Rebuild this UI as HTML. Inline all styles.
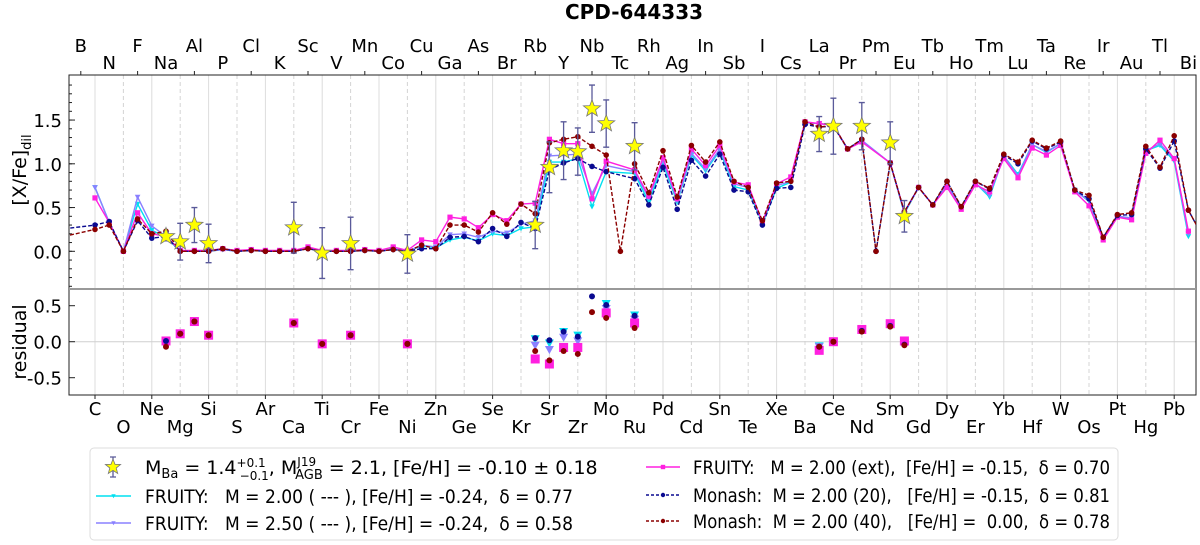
<!DOCTYPE html>
<html><head><meta charset="utf-8">
<style>
html,body{margin:0;padding:0;background:#fff;}
svg{display:block;font-family:"DejaVu Sans","Liberation Sans",sans-serif;}
</style></head>
<body>
<svg id="chart" width="1200" height="545" viewBox="0 0 1200 545" xmlns="http://www.w3.org/2000/svg">
<text x="634" y="19" font-size="20" font-weight="bold" text-anchor="middle">CPD-644333</text>
<defs>
<clipPath id="clipTop"><rect x="69" y="75" width="1127" height="214"/></clipPath>
<clipPath id="clipRes"><rect x="69" y="289" width="1127" height="106"/></clipPath>
</defs>
<g id="grid"></g>
<g id="axes"></g>
<g id="topPlot" clip-path="url(#clipTop)"></g>
<g id="resPlot" clip-path="url(#clipRes)"></g>
<g id="legend"></g>
</svg>
<script>
const symbols = ["Li","Be","B","C","N","O","F","Ne","Na","Mg","Al","Si","P","S","Cl","Ar","K","Ca","Sc","Ti","V","Cr","Mn","Fe","Co","Ni","Cu","Zn","Ga","Ge","As","Se","Br","Kr","Rb","Sr","Y","Zr","Nb","Mo","Tc","Ru","Rh","Pd","Ag","Cd","In","Sn","Sb","Te","I","Xe","Cs","Ba","La","Ce","Pr","Nd","Pm","Sm","Eu","Gd","Tb","Dy","Ho","Er","Tm","Yb","Lu","Hf","Ta","W","Re","Os","Ir","Pt","Au","Hg","Tl","Pb","Bi","Po"];
const zStart = 3;
const fruity200 = [null,null,null,.73,.33,0,.54,.24,.16,0,0,0,.02,0,.01,0,0,0,.03,0,0,0,.01,0,.03,0,.06,.04,.13,.16,.12,.20,.18,.26,.28,1.02,1.02,1.06,.51,.91,null,.89,.56,1.00,.56,1.10,.92,1.15,.74,.70,.32,.72,.79,1.47,1.46,1.44,1.17,1.26,null,1.01,.43,.73,.53,.77,.50,.78,.62,1.09,.88,1.22,1.13,1.23,.70,.57,.15,.40,.38,1.15,1.21,1.03,.17,null];
const fruity250 = [null,null,null,.73,.33,0,.62,.29,.17,0,0,0,.02,0,.01,0,0,0,.03,0,0,0,.01,0,.03,0,.07,.05,.19,.20,.16,.23,.21,.31,.35,1.09,1.10,1.11,.66,.98,null,.91,.61,1.04,.58,1.12,.94,1.17,.77,.73,.34,.75,.80,1.47,1.46,1.44,1.17,1.27,null,1.01,.44,.73,.53,.76,.50,.78,.64,1.09,.86,1.22,1.14,1.23,.69,.58,.15,.40,.38,1.15,1.23,1.05,.20,null];
const fruityExt = [null,null,null,.61,.33,0,.44,.20,.17,.01,.01,.01,.03,.01,.02,.01,.01,.01,.05,.01,.01,.01,.02,.01,.05,.01,.13,.11,.39,.37,.27,.42,.35,.54,.55,1.28,1.23,1.23,.60,1.03,null,.93,.63,1.07,.60,1.17,.98,1.21,.79,.76,.33,.77,.85,1.48,1.46,1.44,1.17,1.25,null,1.01,.45,.73,.53,.73,.48,.76,.68,1.06,.84,1.18,1.10,1.21,.68,.52,.13,.39,.36,1.12,1.27,1.06,.23,null];
const monash20 = [.24,null,null,.30,.34,0,.35,.15,.17,0,0,0,.03,0,.01,0,0,0,.03,0,0,0,.01,0,.02,0,.03,.03,.16,.17,.11,.26,.17,.33,.26,.93,1.01,1.06,.97,.91,null,.83,.53,.96,.48,1.04,.86,1.11,.70,.68,.30,.72,.73,1.45,1.42,1.43,1.17,1.28,0,1.01,.45,.73,.53,.80,.51,.80,.71,1.10,1.00,1.26,1.17,1.25,.70,.60,.16,.41,.42,1.17,.95,1.26,.47,.17];
const monash40 = [.14,null,null,.25,.30,0,.37,.20,.23,0,0,0,.03,0,.01,0,0,0,.03,0,0,0,.01,0,.02,0,.07,.03,.30,.30,.22,.44,.31,.54,.43,1.24,1.28,1.31,1.20,1.10,0,1.00,.67,1.15,.62,1.21,1.02,1.25,.80,.73,.35,.78,.80,1.48,1.42,1.44,1.17,1.28,0,1.01,.45,.73,.53,.80,.51,.80,.72,1.11,1.02,1.27,1.18,1.26,.70,.64,.16,.42,.44,1.20,.96,1.32,.47,.17];
const obsEls = ["Na","Mg","Al","Si","Ca","Ti","Cr","Ni","Rb","Sr","Y","Zr","Nb","Mo","Ru","La","Ce","Nd","Sm","Eu"];
const obsVals = [.17,.11,.30,.09,.27,-.02,.09,-.03,.30,.96,1.15,1.14,1.63,1.46,1.20,1.34,1.43,1.43,1.24,.40];
const obsErrs = [.05,.21,.20,.22,.29,.29,.30,.22,.27,.29,.33,.27,.27,.27,.27,.20,.32,.27,.24,.18];
const resFruity200 = [.01,.11,.28,.09,.26,-.03,.09,-.03,.04,-.02,.14,.09,null,.53,.37,-.06,0,.16,.23,-.02];
const resFruity250 = [.01,.11,.28,.09,.26,-.03,.09,-.03,-.05,-.11,.06,.01,null,.46,.31,-.07,0,.16,.23,-.02];
const resFruityExt = [.01,.11,.28,.09,.26,-.03,.09,-.03,-.24,-.31,-.08,-.08,null,.40,.26,-.12,0,.17,.25,.01];
const resMonash20 = [.01,.11,.28,.09,.26,-.03,.09,-.03,.05,.02,.14,.07,.63,.51,.36,-.07,0,.15,.22,-.04];
const resMonash40 = [-.07,.11,.28,.09,.26,-.03,.09,-.03,-.13,-.26,-.13,-.17,.41,.33,.19,-.07,0,.14,.21,-.05];
const yTicksTop = [0,0.5,1.0,1.5];
const yTicksRes = [0.5,0,-0.5];

const NS="http://www.w3.org/2000/svg";
function mk(tag, attrs, parent){const e=document.createElementNS(NS,tag);for(const k in attrs)e.setAttribute(k,attrs[k]);parent.appendChild(e);return e;}
const zOf = s => symbols.indexOf(s)+zStart;
const xS = z => 95 + 14.2*(z-6);
const yT = v => 251.3 - v*87.5;
const yR = v => 341.7 - v*72;

const gridG=document.getElementById('grid'), axesG=document.getElementById('axes');
const topG=document.getElementById('topPlot'), resG=document.getElementById('resPlot');

for(let z=6; z<=83; z+=2){
  const solid = (z%4===2);
  const g = mk('line',{x1:xS(z),x2:xS(z),y1:75,y2:395,stroke:solid?'#dcdcdc':'#d4d4d4','stroke-width':1,'stroke-dasharray':solid?'none':'4,3'},gridG);
  
  
}
const zl = mk('line',{x1:69,x2:1196,y1:yR(0),y2:yR(0),stroke:'#cfcfcf','stroke-width':1},gridG);



const fr = mk('rect',{x:69,y:75,width:1127,height:320,fill:'none',stroke:'#222','stroke-width':1},axesG);


const sep = mk('line',{x1:69,x2:1196,y1:289,y2:289,stroke:'#999','stroke-width':2},axesG);



for(let z=5; z<=83; z++){
  const s=symbols[z-zStart];
  let y, isTop;
  if(z%2===1){ isTop=true; y = (z%4===1)?52:69; }
  else { isTop=false; y = (z%4===2)?415:433; }
  const t = mk('text',{x:xS(z),y:y,'font-size':18,'text-anchor':'middle',fill:'#000'},axesG);
  t.textContent=s;
  
  
  if(isTop && z%4===1){ mk('line',{x1:xS(z),x2:xS(z),y1:71,y2:75,stroke:'#222'},axesG); }
  if(!isTop && z%4===2){ mk('line',{x1:xS(z),x2:xS(z),y1:395,y2:399,stroke:'#222'},axesG); }
}

yTicksTop.forEach(v=>{
  const t=mk('text',{x:62,y:yT(v)+7,'font-size':18,'text-anchor':'end'},axesG);
  t.textContent=v.toFixed(1);
  
  
  mk('line',{x1:69,x2:75,y1:yT(v),y2:yT(v),stroke:'#222'},axesG);
});
for(let k=-4; k<=19; k++){ const v=k/10; mk('line',{x1:69,x2:72,y1:yT(v),y2:yT(v),stroke:'#222'},axesG); }
yTicksRes.forEach(v=>{
  const t=mk('text',{x:62,y:yR(v)+7,'font-size':18,'text-anchor':'end'},axesG);
  t.textContent=v.toFixed(1);
  
  
  mk('line',{x1:69,x2:75,y1:yR(v),y2:yR(v),stroke:'#222'},axesG);
});
const yl = mk('text',{transform:'translate(26,170) rotate(-90)','font-size':19,'text-anchor':'middle'},axesG);
yl.innerHTML='[X/Fe]<tspan font-size="13" dy="5">dil</tspan>';


const rl = mk('text',{transform:'translate(26,342) rotate(-90)','font-size':19,'text-anchor':'middle'},axesG);
rl.textContent='residual';



function marker(parent, kind, x, y, color, size){
  let m;
  if(kind==='sq'){ m=mk('rect',{x:x-size,y:y-size,width:2*size,height:2*size,fill:color},parent); }
  else if(kind==='tri'){ m=mk('polygon',{points:`${x-size},${y-size*0.8} ${x+size},${y-size*0.8} ${x},${y+size}`,fill:color},parent); }
  else { m=mk('circle',{cx:x,cy:y,r:size,fill:color},parent); }
  return m;
}
const series = [
  {name:'fruity-2-00', vals:fruity200, res:resFruity200, color:'#00e0f0', dash:'none', kind:'tri'},
  {name:'fruity-2-50', vals:fruity250, res:resFruity250, color:'#8a80ff', dash:'none', kind:'tri'},
  {name:'fruity-ext', vals:fruityExt, res:resFruityExt, color:'#ff20e0', dash:'none', kind:'sq'},
  {name:'monash-20', vals:monash20, res:resMonash20, color:'#0a0a90', dash:'4,2', kind:'dot'},
  {name:'monash-40', vals:monash40, res:resMonash40, color:'#8b0000', dash:'4,2', kind:'dot'}
];
series.forEach(s=>{
  const pts=[];
  s.vals.forEach((v,i)=>{ if(v!==null) pts.push([xS(i+zStart),yT(v)]); });
  const p = mk('polyline',{points:pts.map(p=>p.join(',')).join(' '),fill:'none',stroke:s.color,'stroke-width':1.4,'stroke-dasharray':s.dash},topG);
  
  
  pts.forEach(pt=>{
    const m = marker(topG, s.kind, pt[0], pt[1], s.color, s.kind==='sq'?2.6:2.8);
    
    
  });
});
series.forEach(s=>{
  s.res.forEach((v,i)=>{
    if(v===null) return;
    const x=xS(zOf(obsEls[i])), y=yR(v);
    const m = marker(resG, s.kind, x, y, s.color, s.kind==='sq'?4.5:(s.kind==='tri'?4.5:3));
    
    
  });
});

function starPts(cx,cy,R){const r=R*0.42;let a=[];for(let k=0;k<10;k++){const ang=-Math.PI/2+k*Math.PI/5;const rr=k%2?r:R;a.push((cx+rr*Math.cos(ang)).toFixed(1)+','+(cy+rr*Math.sin(ang)).toFixed(1));}return a.join(' ');}
obsEls.forEach((el,i)=>{
  const x=xS(zOf(el)), y=yT(obsVals[i]);
  const y1=yT(obsVals[i]+obsErrs[i]), y2=yT(obsVals[i]-obsErrs[i]);
  const eb = mk('path',{d:`M${x},${y1}V${y2}M${x-3},${y1}H${x+3}M${x-3},${y2}H${x+3}`,stroke:'#5a5a9a','stroke-width':1.3,fill:'none'},topG);
  
  
  const st = mk('polygon',{points:starPts(x,y,9),fill:'#ffff00',stroke:'#777','stroke-width':0.8},topG);
  
  
});

const lg=document.getElementById('legend');
mk('rect',{x:90,y:448,width:1028,height:92,rx:4,fill:'#fff',stroke:'#ddd','stroke-width':1},lg);
const ls = mk('g',{},lg);


mk('path',{d:'M113,457V477M110,457H116M110,477H116',stroke:'#5a5a9a','stroke-width':1.3},ls);
mk('polygon',{points:starPts(113,467,8),fill:'#ffff00',stroke:'#777','stroke-width':0.8},ls);
const t0 = mk('text',{x:145,y:474,'font-size':19},ls);
t0.innerHTML='M<tspan font-size="13" dy="4">Ba</tspan><tspan dy="-4"> = 1.4</tspan><tspan font-size="12" dy="-7">+0.1</tspan><tspan font-size="12" dx="-26" dy="13">−0.1</tspan><tspan dy="-6">, M</tspan><tspan font-size="12" dy="-8">J19</tspan><tspan font-size="13" dx="-21" dy="13">AGB</tspan><tspan dy="-5"> = 2.1, [Fe/H] = -0.10 ± 0.18</tspan>';
const legRows = [
  {x1:96,x2:131,tx:145,ty:503,tl:428,c:'#00e0f0',dash:'none',kind:'tri',txt:'FRUITY:   M = 2.00 ( --- ), [Fe/H] = -0.24,  δ = 0.77',n:'legend-entry-fruity-2-00'},
  {x1:96,x2:131,tx:145,ty:530,tl:428,c:'#8a80ff',dash:'none',kind:'tri',txt:'FRUITY:   M = 2.50 ( --- ), [Fe/H] = -0.24,  δ = 0.58',n:'legend-entry-fruity-2-50'},
  {x1:646,x2:680,tx:693,ty:474,tl:417,c:'#ff20e0',dash:'none',kind:'sq',txt:'FRUITY:   M = 2.00 (ext),  [Fe/H] = -0.15,  δ = 0.70',n:'legend-entry-fruity-ext'},
  {x1:646,x2:680,tx:693,ty:502,tl:417,c:'#0a0a90',dash:'3,2',kind:'dot',txt:'Monash:  M = 2.00 (20),   [Fe/H] = -0.15,  δ = 0.81',n:'legend-entry-monash-20'},
  {x1:646,x2:680,tx:693,ty:528,tl:417,c:'#8b0000',dash:'3,2',kind:'dot',txt:'Monash:  M = 2.00 (40),   [Fe/H] =  0.00,  δ = 0.78',n:'legend-entry-monash-40'}
];
legRows.forEach(r=>{
  const g=mk('g',{},lg);
  
  
  const ly=r.ty-7;
  mk('line',{x1:r.x1,x2:r.x2,y1:ly,y2:ly,stroke:r.c,'stroke-width':1.4,'stroke-dasharray':r.dash},g);
  marker(g,r.kind,(r.x1+r.x2)/2,ly,r.c,2.2);
  const t=mk('text',{x:r.tx,y:r.ty,'font-size':19,textLength:r.tl,lengthAdjust:'spacingAndGlyphs'},g);
  t.setAttribute('style','white-space:pre');
  t.textContent=r.txt;
});
</script>
</body></html>
